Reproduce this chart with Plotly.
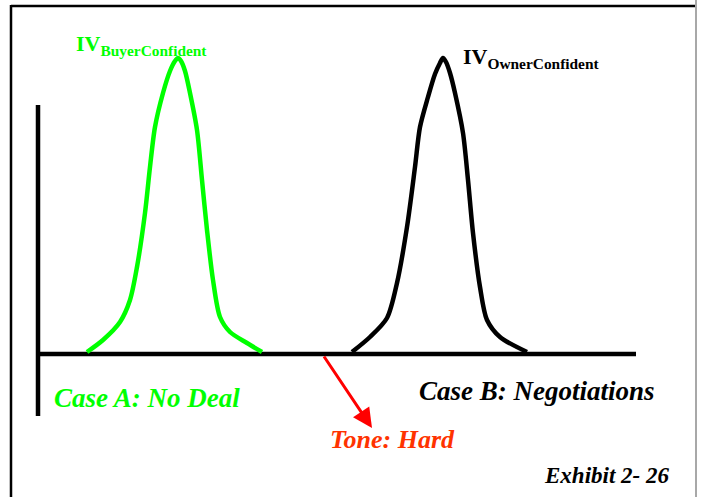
import plotly.graph_objects as go

# Coordinate system: x = horizontal position, y = height above the horizontal axis
buyer_x = [87, 103, 120, 130, 137, 145, 150, 155, 163, 170, 175, 178, 181, 185, 190, 197, 202, 207, 213, 220, 230, 247, 262]
buyer_y = [2, 14, 32, 54, 87, 141, 187, 227, 261, 283, 293, 296, 293, 283, 261, 224, 174, 124, 74, 37, 22, 11, 2]

owner_x = [352, 370, 387, 397, 407, 415, 420, 428, 435, 440, 443, 446, 450, 455, 463, 468, 473, 480, 487, 500, 527]
owner_y = [2, 17, 36, 71, 127, 187, 227, 257, 280, 291, 296, 292, 281, 261, 221, 174, 121, 67, 34, 17, 2]

axis_h_x = [38, 636]
axis_h_y = [0, 0]
axis_v_x = [38, 38]
axis_v_y = [249, -62]

arrow_tail = (323, -1)
arrow_tip = (372, -74)

GREEN = "#00ff00"
FONT = "Liberation Serif, Times New Roman, serif"

fig = go.Figure()
fig.add_trace(go.Scatter(x=axis_h_x, y=axis_h_y, mode="lines",
                         line=dict(color="black", width=4.5), hoverinfo="skip"))
fig.add_trace(go.Scatter(x=axis_v_x, y=axis_v_y, mode="lines",
                         line=dict(color="black", width=4.5), hoverinfo="skip"))
fig.add_trace(go.Scatter(x=buyer_x, y=buyer_y, mode="lines",
                         line=dict(color=GREEN, width=4.5, shape="spline", smoothing=0.8),
                         hoverinfo="skip"))
fig.add_trace(go.Scatter(x=owner_x, y=owner_y, mode="lines",
                         line=dict(color="black", width=4.5, shape="spline", smoothing=0.8),
                         hoverinfo="skip"))

def ann(text, x, y, color, size):
    fig.add_annotation(text=text, x=x, y=y, xref="x", yref="y", showarrow=False,
                       xanchor="left", yanchor="middle",
                       font=dict(family=FONT, size=size, color=color))

ann("<b>IV<sub>BuyerConfident</sub></b>", 74, 354 - 45, GREEN, 22)
ann("<b>IV<sub>OwnerConfident</sub></b>", 461, 354 - 58, "black", 22)
ann("<b><i>Case A: No Deal</i></b>", 52, 354 - 398, GREEN, 27)
ann("<b><i>Case B: Negotiations</i></b>", 417, 354 - 391, "black", 27)
ann("<b><i>Tone: Hard</i></b>", 328, 354 - 439, "#ff3300", 26)
ann("<b><i>Exhibit 2- 26</i></b>", 542, 354 - 475, "black", 23)

fig.add_annotation(x=arrow_tip[0], y=arrow_tip[1], ax=arrow_tail[0], ay=arrow_tail[1],
                   xref="x", yref="y", axref="x", ayref="y", text="", showarrow=True,
                   arrowhead=2, arrowsize=1.3, arrowwidth=3, arrowcolor="#ff0000")

# frame
fig.add_shape(type="line", xref="paper", yref="paper", x0=11/701, x1=695/701,
              y0=1 - 6/497, y1=1 - 6/497, line=dict(color="black", width=2.5))
fig.add_shape(type="line", xref="paper", yref="paper", x0=11/701, x1=11/701,
              y0=0, y1=1 - 5/497, line=dict(color="black", width=2.5))
fig.add_shape(type="line", xref="paper", yref="paper", x0=696/701, x1=696/701,
              y0=0, y1=1, line=dict(color="#a8a8a8", width=2))

fig.update_layout(
    width=701, height=497, margin=dict(l=0, r=0, t=0, b=0),
    paper_bgcolor="white", plot_bgcolor="white", showlegend=False,
    xaxis=dict(range=[0, 701], visible=False, fixedrange=True),
    yaxis=dict(range=[354 - 497, 354], visible=False, fixedrange=True),
)

fig.write_html("out.html", config={"displayModeBar": False},
               post_script="document.body.style.margin='0';document.body.style.overflow='hidden';")
